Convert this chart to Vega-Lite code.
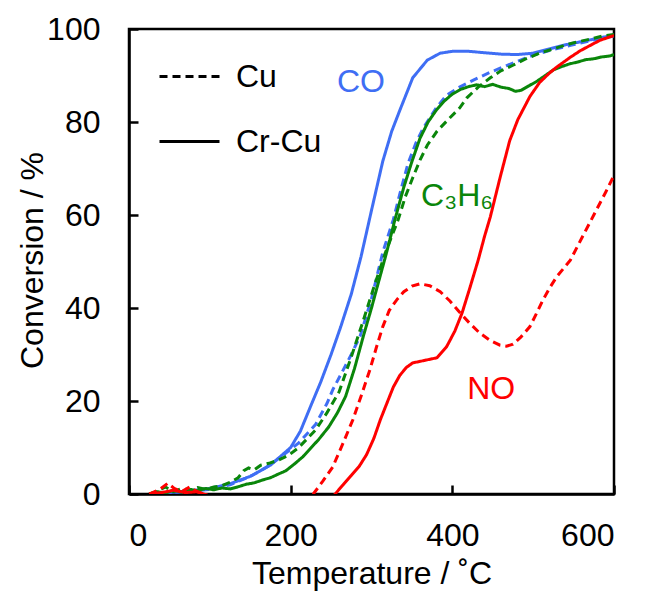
{
  "$schema": "https://vega.github.io/schema/vega-lite/v6.json",
  "width": 485,
  "height": 465,
  "autosize": {"type": "none"},
  "padding": {"left": 129, "top": 29, "right": 32, "bottom": 97},
  "background": "white",
  "config": {
    "font": "Liberation Sans",
    "view": {"stroke": "black", "strokeWidth": 2.5},
    "axis": {"grid": false, "domainColor": "black", "domainWidth": 2.5, "tickColor": "black", "tickWidth": 2.5, "tickSize": -9, "labelColor": "black", "labelFontSize": 32, "labelFont": "Liberation Sans", "titleFont": "Liberation Sans", "titleFontSize": 32, "titleFontWeight": "normal", "titleColor": "black"},
    "legend": {"labelFont": "Liberation Sans"}
  },
  "datasets": {
    "curves": [
      {"gas":"CO","cat":"Cr-Cu","T":25,"C":0},{"gas":"CO","cat":"Cr-Cu","T":50,"C":0.3},{"gas":"CO","cat":"Cr-Cu","T":75,"C":0.7},{"gas":"CO","cat":"Cr-Cu","T":100,"C":1.2},{"gas":"CO","cat":"Cr-Cu","T":125,"C":2.2},{"gas":"CO","cat":"Cr-Cu","T":150,"C":3.8},{"gas":"CO","cat":"Cr-Cu","T":175,"C":6.2},{"gas":"CO","cat":"Cr-Cu","T":200,"C":10},{"gas":"CO","cat":"Cr-Cu","T":212,"C":13.5},{"gas":"CO","cat":"Cr-Cu","T":225,"C":19},{"gas":"CO","cat":"Cr-Cu","T":237,"C":24},{"gas":"CO","cat":"Cr-Cu","T":250,"C":30},{"gas":"CO","cat":"Cr-Cu","T":262,"C":36},{"gas":"CO","cat":"Cr-Cu","T":275,"C":43},{"gas":"CO","cat":"Cr-Cu","T":287,"C":51},{"gas":"CO","cat":"Cr-Cu","T":300,"C":61},{"gas":"CO","cat":"Cr-Cu","T":314,"C":71.6},{"gas":"CO","cat":"Cr-Cu","T":325,"C":78},{"gas":"CO","cat":"Cr-Cu","T":335,"C":82.5},{"gas":"CO","cat":"Cr-Cu","T":351,"C":89.5},{"gas":"CO","cat":"Cr-Cu","T":369,"C":93.3},{"gas":"CO","cat":"Cr-Cu","T":385,"C":94.8},{"gas":"CO","cat":"Cr-Cu","T":400,"C":95.2},{"gas":"CO","cat":"Cr-Cu","T":420,"C":95.2},{"gas":"CO","cat":"Cr-Cu","T":440,"C":94.9},{"gas":"CO","cat":"Cr-Cu","T":460,"C":94.6},{"gas":"CO","cat":"Cr-Cu","T":480,"C":94.5},{"gas":"CO","cat":"Cr-Cu","T":500,"C":94.8},{"gas":"CO","cat":"Cr-Cu","T":520,"C":95.7},{"gas":"CO","cat":"Cr-Cu","T":540,"C":96.6},{"gas":"CO","cat":"Cr-Cu","T":560,"C":97.3},{"gas":"CO","cat":"Cr-Cu","T":580,"C":98},{"gas":"CO","cat":"Cr-Cu","T":600,"C":98.7},

      {"gas":"CO","cat":"Cu","T":25,"C":0},{"gas":"CO","cat":"Cu","T":50,"C":0.3},{"gas":"CO","cat":"Cu","T":75,"C":0.5},{"gas":"CO","cat":"Cu","T":100,"C":1},{"gas":"CO","cat":"Cu","T":125,"C":2},{"gas":"CO","cat":"Cu","T":150,"C":3.8},{"gas":"CO","cat":"Cu","T":161,"C":4.8},{"gas":"CO","cat":"Cu","T":175,"C":6.3},{"gas":"CO","cat":"Cu","T":194,"C":8.8},{"gas":"CO","cat":"Cu","T":210,"C":11},{"gas":"CO","cat":"Cu","T":231,"C":15},{"gas":"CO","cat":"Cu","T":245,"C":19.5},{"gas":"CO","cat":"Cu","T":252,"C":22.4},{"gas":"CO","cat":"Cu","T":263,"C":26},{"gas":"CO","cat":"Cu","T":275,"C":30},{"gas":"CO","cat":"Cu","T":286,"C":34},{"gas":"CO","cat":"Cu","T":300,"C":42},{"gas":"CO","cat":"Cu","T":314,"C":52},{"gas":"CO","cat":"Cu","T":327,"C":59},{"gas":"CO","cat":"Cu","T":335,"C":64.5},{"gas":"CO","cat":"Cu","T":345,"C":71},{"gas":"CO","cat":"Cu","T":355,"C":75.5},{"gas":"CO","cat":"Cu","T":364,"C":78.7},{"gas":"CO","cat":"Cu","T":380,"C":83},{"gas":"CO","cat":"Cu","T":393,"C":85.8},{"gas":"CO","cat":"Cu","T":409,"C":87.5},{"gas":"CO","cat":"Cu","T":426,"C":89},{"gas":"CO","cat":"Cu","T":447,"C":90.7},{"gas":"CO","cat":"Cu","T":468,"C":92.2},{"gas":"CO","cat":"Cu","T":500,"C":94.4},{"gas":"CO","cat":"Cu","T":525,"C":95.6},{"gas":"CO","cat":"Cu","T":549,"C":96.6},{"gas":"CO","cat":"Cu","T":575,"C":97.6},{"gas":"CO","cat":"Cu","T":600,"C":98.5},

      {"gas":"C3H6","cat":"Cr-Cu","T":25,"C":0},{"gas":"C3H6","cat":"Cr-Cu","T":35,"C":0.5},{"gas":"C3H6","cat":"Cr-Cu","T":45,"C":0.2},{"gas":"C3H6","cat":"Cr-Cu","T":55,"C":0.8},{"gas":"C3H6","cat":"Cr-Cu","T":65,"C":0.4},{"gas":"C3H6","cat":"Cr-Cu","T":75,"C":1},{"gas":"C3H6","cat":"Cr-Cu","T":85,"C":0.7},{"gas":"C3H6","cat":"Cr-Cu","T":95,"C":1.2},{"gas":"C3H6","cat":"Cr-Cu","T":105,"C":0.9},{"gas":"C3H6","cat":"Cr-Cu","T":115,"C":1.3},{"gas":"C3H6","cat":"Cr-Cu","T":125,"C":1.1},{"gas":"C3H6","cat":"Cr-Cu","T":136,"C":1.6},{"gas":"C3H6","cat":"Cr-Cu","T":145,"C":2.1},{"gas":"C3H6","cat":"Cr-Cu","T":155,"C":2.4},{"gas":"C3H6","cat":"Cr-Cu","T":165,"C":3},{"gas":"C3H6","cat":"Cr-Cu","T":175,"C":3.5},{"gas":"C3H6","cat":"Cr-Cu","T":185,"C":4.3},{"gas":"C3H6","cat":"Cr-Cu","T":194,"C":5},{"gas":"C3H6","cat":"Cr-Cu","T":205,"C":6.5},{"gas":"C3H6","cat":"Cr-Cu","T":215,"C":8},{"gas":"C3H6","cat":"Cr-Cu","T":223,"C":9.5},{"gas":"C3H6","cat":"Cr-Cu","T":235,"C":11.8},{"gas":"C3H6","cat":"Cr-Cu","T":247,"C":14.4},{"gas":"C3H6","cat":"Cr-Cu","T":258,"C":17.5},{"gas":"C3H6","cat":"Cr-Cu","T":268,"C":21},{"gas":"C3H6","cat":"Cr-Cu","T":279,"C":27},{"gas":"C3H6","cat":"Cr-Cu","T":290,"C":34},{"gas":"C3H6","cat":"Cr-Cu","T":300,"C":40},{"gas":"C3H6","cat":"Cr-Cu","T":307,"C":44.5},{"gas":"C3H6","cat":"Cr-Cu","T":318,"C":51.5},{"gas":"C3H6","cat":"Cr-Cu","T":329,"C":59},{"gas":"C3H6","cat":"Cr-Cu","T":340,"C":66},{"gas":"C3H6","cat":"Cr-Cu","T":350,"C":71.5},{"gas":"C3H6","cat":"Cr-Cu","T":360,"C":76.5},{"gas":"C3H6","cat":"Cr-Cu","T":370,"C":80},{"gas":"C3H6","cat":"Cr-Cu","T":380,"C":82.5},{"gas":"C3H6","cat":"Cr-Cu","T":390,"C":84.5},{"gas":"C3H6","cat":"Cr-Cu","T":400,"C":86},{"gas":"C3H6","cat":"Cr-Cu","T":410,"C":87},{"gas":"C3H6","cat":"Cr-Cu","T":420,"C":87.6},{"gas":"C3H6","cat":"Cr-Cu","T":430,"C":88},{"gas":"C3H6","cat":"Cr-Cu","T":440,"C":87.6},{"gas":"C3H6","cat":"Cr-Cu","T":450,"C":88.1},{"gas":"C3H6","cat":"Cr-Cu","T":460,"C":87.5},{"gas":"C3H6","cat":"Cr-Cu","T":470,"C":87.2},{"gas":"C3H6","cat":"Cr-Cu","T":478,"C":86.6},{"gas":"C3H6","cat":"Cr-Cu","T":485,"C":86.8},{"gas":"C3H6","cat":"Cr-Cu","T":495,"C":87.8},{"gas":"C3H6","cat":"Cr-Cu","T":505,"C":88.8},{"gas":"C3H6","cat":"Cr-Cu","T":515,"C":90},{"gas":"C3H6","cat":"Cr-Cu","T":525,"C":91.2},{"gas":"C3H6","cat":"Cr-Cu","T":535,"C":91.9},{"gas":"C3H6","cat":"Cr-Cu","T":545,"C":92.5},{"gas":"C3H6","cat":"Cr-Cu","T":555,"C":92.9},{"gas":"C3H6","cat":"Cr-Cu","T":565,"C":93.4},{"gas":"C3H6","cat":"Cr-Cu","T":575,"C":93.6},{"gas":"C3H6","cat":"Cr-Cu","T":585,"C":94},{"gas":"C3H6","cat":"Cr-Cu","T":595,"C":94.2},{"gas":"C3H6","cat":"Cr-Cu","T":600,"C":94.5},

      {"gas":"C3H6","cat":"Cu","T":25,"C":0},{"gas":"C3H6","cat":"Cu","T":35,"C":0.6},{"gas":"C3H6","cat":"Cu","T":45,"C":1.5},{"gas":"C3H6","cat":"Cu","T":55,"C":0.5},{"gas":"C3H6","cat":"Cu","T":65,"C":1.2},{"gas":"C3H6","cat":"Cu","T":75,"C":0.8},{"gas":"C3H6","cat":"Cu","T":85,"C":1.4},{"gas":"C3H6","cat":"Cu","T":95,"C":1},{"gas":"C3H6","cat":"Cu","T":105,"C":1.5},{"gas":"C3H6","cat":"Cu","T":115,"C":1.8},{"gas":"C3H6","cat":"Cu","T":125,"C":2.5},{"gas":"C3H6","cat":"Cu","T":135,"C":3.5},{"gas":"C3H6","cat":"Cu","T":142,"C":5},{"gas":"C3H6","cat":"Cu","T":148,"C":5.6},{"gas":"C3H6","cat":"Cu","T":155,"C":5.2},{"gas":"C3H6","cat":"Cu","T":163,"C":6.2},{"gas":"C3H6","cat":"Cu","T":173,"C":6.6},{"gas":"C3H6","cat":"Cu","T":185,"C":7.3},{"gas":"C3H6","cat":"Cu","T":198,"C":8.4},{"gas":"C3H6","cat":"Cu","T":210,"C":10},{"gas":"C3H6","cat":"Cu","T":220,"C":11.8},{"gas":"C3H6","cat":"Cu","T":231,"C":13.8},{"gas":"C3H6","cat":"Cu","T":245,"C":17.5},{"gas":"C3H6","cat":"Cu","T":260,"C":22},{"gas":"C3H6","cat":"Cu","T":275,"C":29.5},{"gas":"C3H6","cat":"Cu","T":290,"C":37.4},{"gas":"C3H6","cat":"Cu","T":303,"C":44.5},{"gas":"C3H6","cat":"Cu","T":317,"C":51.8},{"gas":"C3H6","cat":"Cu","T":333,"C":59},{"gas":"C3H6","cat":"Cu","T":342,"C":64},{"gas":"C3H6","cat":"Cu","T":351,"C":68},{"gas":"C3H6","cat":"Cu","T":360,"C":71.8},{"gas":"C3H6","cat":"Cu","T":369,"C":75},{"gas":"C3H6","cat":"Cu","T":381,"C":78},{"gas":"C3H6","cat":"Cu","T":393,"C":80.2},{"gas":"C3H6","cat":"Cu","T":409,"C":83},{"gas":"C3H6","cat":"Cu","T":418,"C":85.2},{"gas":"C3H6","cat":"Cu","T":432,"C":87.5},{"gas":"C3H6","cat":"Cu","T":447,"C":89.5},{"gas":"C3H6","cat":"Cu","T":460,"C":91},{"gas":"C3H6","cat":"Cu","T":475,"C":92.2},{"gas":"C3H6","cat":"Cu","T":490,"C":93.5},{"gas":"C3H6","cat":"Cu","T":508,"C":94.8},{"gas":"C3H6","cat":"Cu","T":530,"C":96},{"gas":"C3H6","cat":"Cu","T":549,"C":97},{"gas":"C3H6","cat":"Cu","T":570,"C":97.8},{"gas":"C3H6","cat":"Cu","T":586,"C":98.5},{"gas":"C3H6","cat":"Cu","T":600,"C":98.8},

      {"gas":"NO","cat":"Cr-Cu","T":25,"C":0},{"gas":"NO","cat":"Cr-Cu","T":40,"C":0.3},{"gas":"NO","cat":"Cr-Cu","T":55,"C":0.8},{"gas":"NO","cat":"Cr-Cu","T":70,"C":0.3},{"gas":"NO","cat":"Cr-Cu","T":85,"C":0.5},{"gas":"NO","cat":"Cr-Cu","T":100,"C":-0.5},{"gas":"NO","cat":"Cr-Cu","T":150,"C":-3},{"gas":"NO","cat":"Cr-Cu","T":200,"C":-3},{"gas":"NO","cat":"Cr-Cu","T":245,"C":-2},{"gas":"NO","cat":"Cr-Cu","T":255,"C":0},{"gas":"NO","cat":"Cr-Cu","T":265,"C":2},{"gas":"NO","cat":"Cr-Cu","T":275,"C":4},{"gas":"NO","cat":"Cr-Cu","T":285,"C":6},{"gas":"NO","cat":"Cr-Cu","T":294,"C":8.5},{"gas":"NO","cat":"Cr-Cu","T":303,"C":12},{"gas":"NO","cat":"Cr-Cu","T":311,"C":16},{"gas":"NO","cat":"Cr-Cu","T":319,"C":19.5},{"gas":"NO","cat":"Cr-Cu","T":327,"C":23},{"gas":"NO","cat":"Cr-Cu","T":335,"C":25.5},{"gas":"NO","cat":"Cr-Cu","T":343,"C":27.2},{"gas":"NO","cat":"Cr-Cu","T":351,"C":28.2},{"gas":"NO","cat":"Cr-Cu","T":365,"C":28.7},{"gas":"NO","cat":"Cr-Cu","T":381,"C":29.3},{"gas":"NO","cat":"Cr-Cu","T":393,"C":31.7},{"gas":"NO","cat":"Cr-Cu","T":403,"C":35},{"gas":"NO","cat":"Cr-Cu","T":412,"C":38.9},{"gas":"NO","cat":"Cr-Cu","T":422,"C":44.5},{"gas":"NO","cat":"Cr-Cu","T":432,"C":50.3},{"gas":"NO","cat":"Cr-Cu","T":440,"C":55.5},{"gas":"NO","cat":"Cr-Cu","T":447,"C":59.6},{"gas":"NO","cat":"Cr-Cu","T":459,"C":68},{"gas":"NO","cat":"Cr-Cu","T":471,"C":76},{"gas":"NO","cat":"Cr-Cu","T":481,"C":80.5},{"gas":"NO","cat":"Cr-Cu","T":496,"C":85.5},{"gas":"NO","cat":"Cr-Cu","T":508,"C":88.5},{"gas":"NO","cat":"Cr-Cu","T":520,"C":90.5},{"gas":"NO","cat":"Cr-Cu","T":529,"C":91.8},{"gas":"NO","cat":"Cr-Cu","T":545,"C":93.8},{"gas":"NO","cat":"Cr-Cu","T":558,"C":95.3},{"gas":"NO","cat":"Cr-Cu","T":572,"C":96.6},{"gas":"NO","cat":"Cr-Cu","T":583,"C":97.6},{"gas":"NO","cat":"Cr-Cu","T":595,"C":98.3},{"gas":"NO","cat":"Cr-Cu","T":600,"C":98.6},

      {"gas":"NO","cat":"Cu","T":25,"C":0},{"gas":"NO","cat":"Cu","T":38,"C":1},{"gas":"NO","cat":"Cu","T":48,"C":2.3},{"gas":"NO","cat":"Cu","T":56,"C":1.2},{"gas":"NO","cat":"Cu","T":65,"C":0.5},{"gas":"NO","cat":"Cu","T":75,"C":1.5},{"gas":"NO","cat":"Cu","T":85,"C":0.4},{"gas":"NO","cat":"Cu","T":95,"C":0},{"gas":"NO","cat":"Cu","T":110,"C":-3},{"gas":"NO","cat":"Cu","T":200,"C":-3},{"gas":"NO","cat":"Cu","T":228,"C":0},{"gas":"NO","cat":"Cu","T":240,"C":2.8},{"gas":"NO","cat":"Cu","T":252,"C":5.8},{"gas":"NO","cat":"Cu","T":265,"C":11},{"gas":"NO","cat":"Cu","T":277,"C":16},{"gas":"NO","cat":"Cu","T":288,"C":21.5},{"gas":"NO","cat":"Cu","T":298,"C":26.7},{"gas":"NO","cat":"Cu","T":306,"C":31.5},{"gas":"NO","cat":"Cu","T":314,"C":36},{"gas":"NO","cat":"Cu","T":322,"C":39.5},{"gas":"NO","cat":"Cu","T":331,"C":41.7},{"gas":"NO","cat":"Cu","T":340,"C":43.5},{"gas":"NO","cat":"Cu","T":350,"C":44.7},{"gas":"NO","cat":"Cu","T":360,"C":45.2},{"gas":"NO","cat":"Cu","T":372,"C":44.8},{"gas":"NO","cat":"Cu","T":385,"C":43.5},{"gas":"NO","cat":"Cu","T":397,"C":41.5},{"gas":"NO","cat":"Cu","T":409,"C":39.1},{"gas":"NO","cat":"Cu","T":421,"C":36.8},{"gas":"NO","cat":"Cu","T":434,"C":34.6},{"gas":"NO","cat":"Cu","T":447,"C":33},{"gas":"NO","cat":"Cu","T":459,"C":32},{"gas":"NO","cat":"Cu","T":467,"C":31.8},{"gas":"NO","cat":"Cu","T":475,"C":32.2},{"gas":"NO","cat":"Cu","T":485,"C":33.8},{"gas":"NO","cat":"Cu","T":496,"C":36},{"gas":"NO","cat":"Cu","T":504,"C":38.8},{"gas":"NO","cat":"Cu","T":512,"C":41.7},{"gas":"NO","cat":"Cu","T":520,"C":44.2},{"gas":"NO","cat":"Cu","T":529,"C":46.7},{"gas":"NO","cat":"Cu","T":538,"C":48.6},{"gas":"NO","cat":"Cu","T":546,"C":50.3},{"gas":"NO","cat":"Cu","T":560,"C":55},{"gas":"NO","cat":"Cu","T":575,"C":60},{"gas":"NO","cat":"Cu","T":590,"C":65},{"gas":"NO","cat":"Cu","T":600,"C":68.5}
    ],
    "labels": [
      {"gas":"CO","label":"CO","T":287,"C":88.6},
      {"gas":"C3H6","label":"C₃H₆","T":406,"C":64},
      {"gas":"NO","label":"NO","T":448,"C":22.6}
    ]
  },
  "layer": [
    {
      "data": {"name": "curves"},
      "mark": {"type": "line", "strokeWidth": 3, "clip": true, "interpolate": "linear"},
      "encoding": {
        "x": {"field": "T", "type": "quantitative", "scale": {"domain": [0, 600], "nice": false}, "axis": {"values": [0, 200, 400, 600], "labelPadding": 35, "title": "Temperature / ˚C", "titleY": 89, "titleBaseline": "alphabetic"}},
        "y": {"field": "C", "type": "quantitative", "scale": {"domain": [0, 100], "nice": false}, "axis": {"values": [0, 20, 40, 60, 80, 100], "labelPadding": 38, "title": "Conversion / %", "titleX": -87, "titleY": 231, "titleAngle": -90, "titleBaseline": "alphabetic", "titleAlign": "center"}},
        "color": {"field": "gas", "type": "nominal", "scale": {"domain": ["CO", "C3H6", "NO"], "range": ["#3F6EF4", "#0A860A", "#FF0000"]}, "legend": null},
        "strokeDash": {"field": "cat", "type": "nominal", "scale": {"domain": ["Cu", "Cr-Cu"], "range": [[8, 5], [1, 0]]}, "legend": {"title": null, "orient": "none", "legendX": 29, "legendY": 16, "symbolType": "stroke", "symbolSize": 3600, "symbolStrokeWidth": 3, "symbolStrokeColor": "black", "labelFontSize": 32, "labelColor": "black", "labelOffset": 15, "rowPadding": 17, "padding": 0}},
        "detail": {"field": "cat"},
        "order": {"field": "T", "type": "quantitative"}
      }
    },
    {
      "data": {"name": "labels"},
      "mark": {"type": "text", "fontSize": 32, "font": "Liberation Sans", "align": "center", "baseline": "middle"},
      "encoding": {
        "x": {"field": "T", "type": "quantitative"},
        "y": {"field": "C", "type": "quantitative"},
        "text": {"field": "label"},
        "color": {"field": "gas", "type": "nominal", "legend": null}
      }
    }
  ]
}
